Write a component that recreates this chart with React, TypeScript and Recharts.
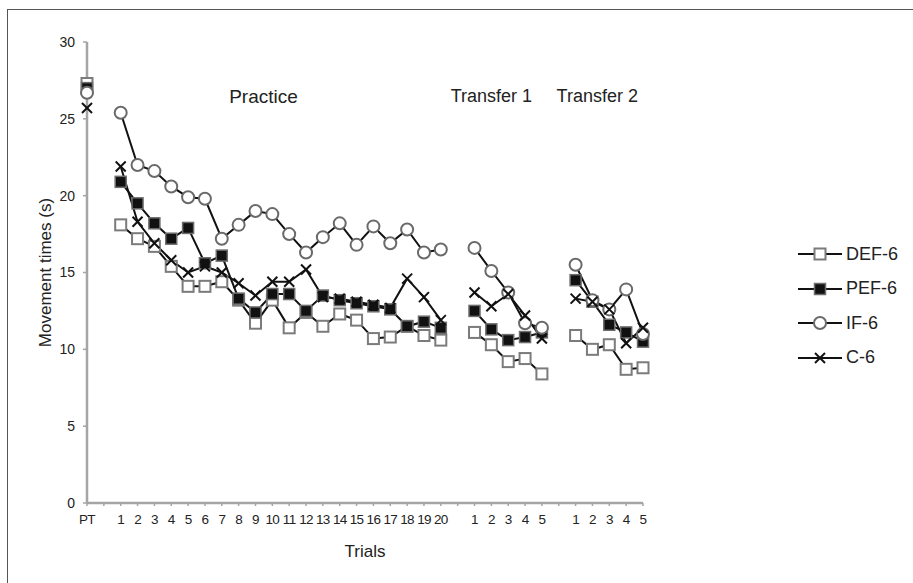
import React from "react";
import {
  LineChart,
  Line,
  XAxis,
  YAxis,
  Legend,
  ReferenceDot,
} from "recharts";

// category layout: PT, gap, practice 1-20, gap, transfer 1 (1-5), gap, transfer 2 (1-5)
const practiceTrials = Array.from({ length: 20 }, (_, i) => String(i + 1));
const transferTrials = ["1", "2", "3", "4", "5"];
const yTicks = [0, 5, 10, 15, 20, 25, 30];

const ptValues = { def: 27.3, pef: 27.0, ifb: 26.7, c: 25.7 };

const defPractice = [18.1, 17.2, 16.7, 15.4, 14.1, 14.1, 14.4, 13.2, 11.7, 13.2, 11.4, 12.4, 11.5, 12.3, 11.9, 10.7, 10.8, 11.5, 10.9, 10.6];
const pefPractice = [20.9, 19.5, 18.2, 17.2, 17.9, 15.6, 16.1, 13.3, 12.4, 13.6, 13.6, 12.5, 13.5, 13.2, 13.0, 12.8, 12.6, 11.5, 11.8, 11.4];
const ifPractice = [25.4, 22.0, 21.6, 20.6, 19.9, 19.8, 17.2, 18.1, 19.0, 18.8, 17.5, 16.3, 17.3, 18.2, 16.8, 18.0, 16.9, 17.8, 16.3, 16.5];
const cPractice = [21.9, 18.3, 16.9, 15.8, 15.0, 15.4, 15.0, 14.3, 13.5, 14.4, 14.4, 15.2, 13.4, 13.3, 13.1, 12.9, 12.7, 14.6, 13.4, 11.9];

const defT1 = [11.1, 10.3, 9.2, 9.4, 8.4];
const pefT1 = [12.5, 11.3, 10.6, 10.8, 11.1];
const ifT1 = [16.6, 15.1, 13.7, 11.7, 11.4];
const cT1 = [13.7, 12.8, 13.6, 12.2, 10.7];

const defT2 = [10.9, 10.0, 10.3, 8.7, 8.8];
const pefT2 = [14.5, 13.1, 11.6, 11.1, 10.5];
const ifT2 = [15.5, 13.2, 12.6, 13.9, 11.0];
const cT2 = [13.3, 13.1, 12.6, 10.4, 11.4];

type Row = { id: string; label: string; def: number | null; pef: number | null; ifb: number | null; c: number | null };

const gap = (id: string): Row => ({ id, label: "", def: null, pef: null, ifb: null, c: null });

const data: Row[] = [
  { id: "PT", label: "PT", ...ptValues },
  gap("g1"),
  ...practiceTrials.map((t, i) => ({ id: `P${t}`, label: t, def: defPractice[i], pef: pefPractice[i], ifb: ifPractice[i], c: cPractice[i] })),
  gap("g2"),
  ...transferTrials.map((t, i) => ({ id: `A${t}`, label: t, def: defT1[i], pef: pefT1[i], ifb: ifT1[i], c: cT1[i] })),
  gap("g3"),
  ...transferTrials.map((t, i) => ({ id: `B${t}`, label: t, def: defT2[i], pef: pefT2[i], ifb: ifT2[i], c: cT2[i] })),
];

const labelById: Record<string, string> = Object.fromEntries(data.map((d) => [d.id, d.label]));

const FONT = "'Liberation Sans', Arial, sans-serif";

function Marker({ kind, cx, cy }: { kind: string; cx: number; cy: number }) {
  if (kind === "def")
    return <rect x={cx - 5.5} y={cy - 5.5} width={11} height={11} fill="#fff" stroke="#7b7b7b" strokeWidth={2} />;
  if (kind === "pef")
    return <rect x={cx - 5.5} y={cy - 5.5} width={11} height={11} fill="#111" stroke="#6d6d6d" strokeWidth={1.5} />;
  if (kind === "ifb")
    return <circle cx={cx} cy={cy} r={6} fill="#fff" stroke="#6a6a6a" strokeWidth={2} />;
  return (
    <g stroke="#111" strokeWidth={2}>
      <line x1={cx - 5} y1={cy - 5} x2={cx + 5} y2={cy + 5} />
      <line x1={cx - 5} y1={cy + 5} x2={cx + 5} y2={cy - 5} />
    </g>
  );
}

const dotFor = (kind: string) => (props: any) => {
  const { cx, cy, value, index } = props;
  if (value == null || cx == null || cy == null) return <g key={`${kind}-${index}`} />;
  return (
    <g key={`${kind}-${index}`}>
      <Marker kind={kind} cx={cx} cy={cy} />
    </g>
  );
};

const legendRows = [
  { kind: "def", name: "DEF-6" },
  { kind: "pef", name: "PEF-6" },
  { kind: "ifb", name: "IF-6" },
  { kind: "c", name: "C-6" },
];

function LegendBox() {
  return (
    <div style={{ fontFamily: FONT, fontSize: 18, color: "#222" }}>
      {legendRows.map((r) => (
        <div key={r.kind} style={{ display: "flex", alignItems: "center", height: 34.5 }}>
          <svg width={48} height={16} style={{ overflow: "visible" }}>
            <line x1={2} y1={8} x2={46} y2={8} stroke="#111" strokeWidth={2} />
            <Marker kind={r.kind} cx={24} cy={8} />
          </svg>
          <span style={{ marginLeft: 2 }}>{r.name}</span>
        </div>
      ))}
    </div>
  );
}

const sectionLabel = (text: string, dx: number, size: number) => ({
  value: text,
  position: "center" as const,
  dx,
  fill: "#222",
  fontSize: size,
  fontFamily: FONT,
});

export default function App() {
  return (
    <div style={{ position: "absolute", left: 0, top: 0, width: 913, height: 583, background: "#fff" }}>
      <div
        style={{
          position: "absolute",
          left: 7,
          top: 9,
          width: 906,
          height: 574,
          borderLeft: "1.5px solid #555",
          borderTop: "1.5px solid #555",
        }}
      />
      <LineChart
        width={913}
        height={583}
        data={data}
        margin={{ top: 42, right: 153, bottom: 20, left: 30 }}
        style={{ position: "absolute", left: 0, top: 0 }}
      >
        <XAxis
          dataKey="id"
          interval={0}
          tickFormatter={(v: string) => labelById[v] ?? ""}
          tick={{ fill: "#222", fontSize: 13.5, fontFamily: FONT, letterSpacing: -0.7 }}
          tickLine={{ stroke: "#a5a5a5", strokeWidth: 1.5 }}
          tickSize={3}
          tickMargin={8}
          axisLine={{ stroke: "#a5a5a5", strokeWidth: 2.5 }}
          height={60}
          label={{ value: "Trials", position: "insideBottom", offset: 6, fill: "#222", fontSize: 17, fontFamily: FONT }}
        />
        <YAxis
          domain={[0, 30]}
          ticks={yTicks}
          interval={0}
          width={57}
          tick={{ fill: "#222", fontSize: 14, fontFamily: FONT }}
          tickLine={{ stroke: "#a5a5a5", strokeWidth: 1.5 }}
          tickSize={4}
          tickMargin={8}
          axisLine={{ stroke: "#a5a5a5", strokeWidth: 2.5 }}
          label={{
            value: "Movement times (s)",
            angle: -90,
            position: "insideLeft",
            offset: 15,
            style: { textAnchor: "middle" },
            fill: "#222",
            fontSize: 17,
            fontFamily: FONT,
          }}
        />
        <Legend
          layout="vertical"
          align="right"
          verticalAlign="middle"
          content={() => <LegendBox />}
          wrapperStyle={{ left: 796, top: 237, width: 117, right: "auto", bottom: "auto" }}
        />
        <ReferenceDot x="P9" y={26.5} r={1} fill="none" stroke="none" label={sectionLabel("Practice", 8, 19)} />
        <ReferenceDot x="A2" y={26.5} r={1} fill="none" stroke="none" label={sectionLabel("Transfer 1", 0, 18)} />
        <ReferenceDot x="B3" y={26.5} r={1} fill="none" stroke="none" label={sectionLabel("Transfer 2", -12, 18)} />
        <Line dataKey="def" name="DEF-6" stroke="#111" strokeWidth={2} dot={dotFor("def")} activeDot={false} isAnimationActive={false} connectNulls={false} />
        <Line dataKey="pef" name="PEF-6" stroke="#111" strokeWidth={2} dot={dotFor("pef")} activeDot={false} isAnimationActive={false} connectNulls={false} />
        <Line dataKey="ifb" name="IF-6" stroke="#111" strokeWidth={2} dot={dotFor("ifb")} activeDot={false} isAnimationActive={false} connectNulls={false} />
        <Line dataKey="c" name="C-6" stroke="#111" strokeWidth={2} dot={dotFor("c")} activeDot={false} isAnimationActive={false} connectNulls={false} />
      </LineChart>
    </div>
  );
}
